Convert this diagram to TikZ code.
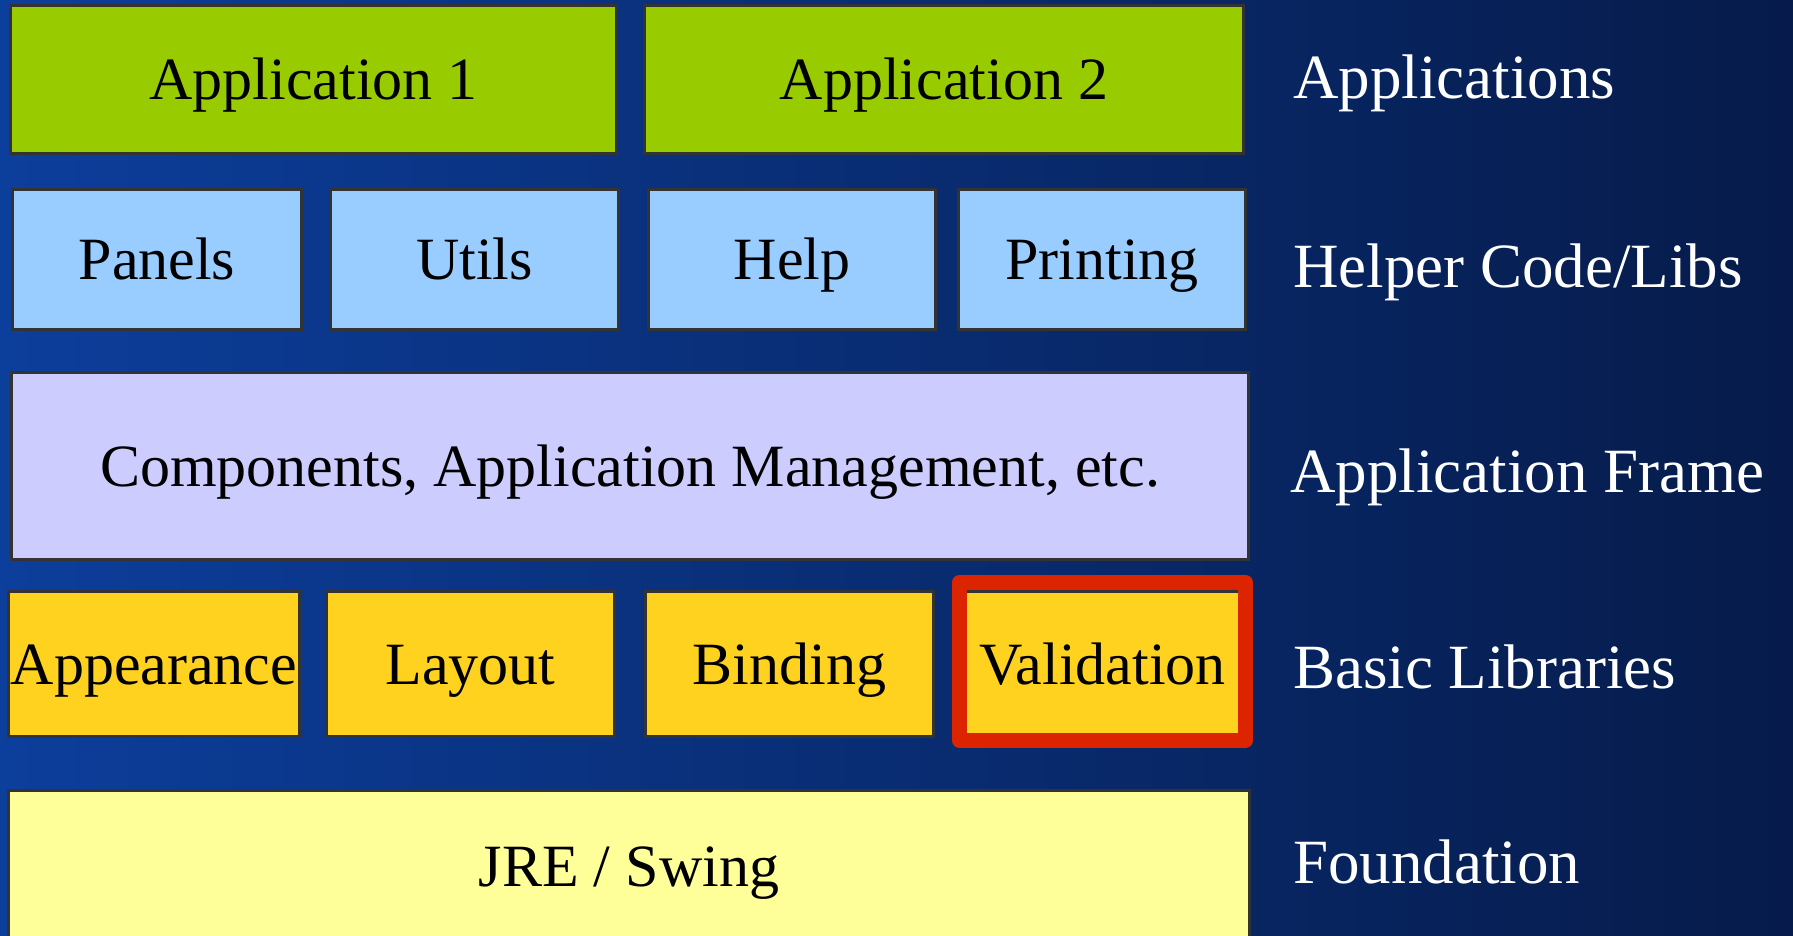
\documentclass[tikz,border=0pt]{standalone}
\usepackage{fontspec}
\setmainfont{Liberation Serif}
\definecolor{bgL}{HTML}{0C3E9B}
\definecolor{bgR}{HTML}{061B4A}
\definecolor{boxline}{HTML}{333333}
\definecolor{appgreen}{HTML}{99CC00}
\definecolor{helpblue}{HTML}{99CCFF}
\definecolor{framelav}{HTML}{CCCCFF}
\definecolor{basicyel}{HTML}{FFD220}
\definecolor{foundyel}{HTML}{FFFF99}
\definecolor{hired}{HTML}{DD2400}
\begin{document}
\begin{tikzpicture}[x=1pt,y=-1pt,
  box/.style={draw=boxline, line width=3.3pt, inner sep=0pt, outer sep=0pt,
    text height=40pt, text depth=0pt, font=\fontsize{60}{66}\selectfont},
  side/.style={anchor=base west, inner sep=0pt, text=white,
    font=\fontsize{63}{70}\selectfont}]
\useasboundingbox (0,0) rectangle (1793,936);
\shade[left color=bgL, right color=bgR] (0,0) rectangle (1793,936);
% Applications row
\node[box, fill=appgreen, minimum width=606pt, minimum height=148pt] (app1) at (313.5,79.5) {Application 1};
\node[box, fill=appgreen, minimum width=599pt, minimum height=148pt] (app2) at (944,79.5) {Application 2};
% Helper row
\node[box, fill=helpblue, minimum width=289pt, minimum height=140pt] (panels) at (157,259.5) {Panels};
\node[box, fill=helpblue, minimum width=288pt, minimum height=140pt] (utils) at (474.5,259.5) {Utils};
\node[box, fill=helpblue, minimum width=287pt, minimum height=140pt] (help) at (792,259.5) {Help};
\node[box, fill=helpblue, minimum width=287pt, minimum height=140pt] (printing) at (1102,259.5) {Printing};
% Application frame
\node[box, fill=framelav, minimum width=1237pt, minimum height=187pt] (frame) at (630,466) {Components, Application Management, etc.};
% Basic libraries
\node[box, fill=basicyel, minimum width=291pt, minimum height=145pt] (appear) at (154,664) {Appearance};
\node[box, fill=basicyel, minimum width=288pt, minimum height=145pt] (layout) at (470.5,664) {Layout};
\node[box, fill=basicyel, minimum width=288pt, minimum height=145pt] (binding) at (789.5,664) {Binding};
\node[box, fill=basicyel, minimum width=286pt, minimum height=145pt] (valid) at (1102.5,664) {Validation};
\draw[hired, line width=15pt, line join=round] (959.5,582.5) rectangle (1245.5,740.5);
% Foundation
\node[box, fill=foundyel, minimum width=1241pt, minimum height=151pt] (found) at (629,866) {JRE / Swing};
% Side labels
\node[side] (lapps) at (1293,99) {Applications};
\node[side] (lhelp) at (1293,287) {Helper Code/Libs};
\node[side] (lframe) at (1290,492) {Application Frame};
\node[side] (lbasic) at (1293,688) {Basic Libraries};
\node[side] (lfound) at (1293,883) {Foundation};
\end{tikzpicture}
\end{document}
